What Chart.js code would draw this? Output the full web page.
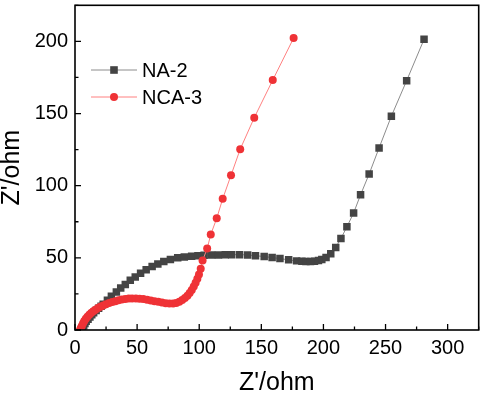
<!DOCTYPE html>
<html><head><meta charset="utf-8">
<script src="https://cdn.jsdelivr.net/npm/chart.js@4/dist/chart.umd.min.js"></script>
<style>html,body{margin:0;padding:0;background:#fff}#wrap{width:484px;height:396px;position:relative}</style>
</head><body><div id="wrap"><canvas id="c" width="484" height="396"></canvas></div>
<script>
const seriesNames = ['NA-2', 'NCA-3'];
const na2X = [5,6,7,8,9,10.5,12,13.5,15,17,19,21,22.7,26.1,29.3,33.3,36.8,40.5,44.5,48.5,52.8,57.3,62.1,66.7,71.5,76.8,82.7,88,93.9,99,104,110,115.5,121,126.1,132.5,139,145.3,152.3,158.7,165,172,178.4,182.7,185.9,189.6,192.8,196,198.7,202.1,205.9,209.9,214.1,218.9,224.3,229.9,236.8,244.8,254.7,267,281];
const na2Y = [0,1.5,3,4.5,6,7.5,9,10.5,12,13.5,15,16.5,17.9,20.6,23.4,26.3,29.1,31.6,34.4,36.7,39.4,41.7,44,45.8,47.4,48.8,50,50.6,51.1,51.5,51.8,51.9,52,52.1,52.2,52.2,52,51.5,50.9,50.2,49.5,48.6,47.9,47.6,47.4,47.4,47.6,48.1,48.8,50.2,52.9,57.2,63.4,71.5,81.1,93.7,108.1,126.2,148.2,172.8,201.4];
const nca3X = [4,4.8,5.6,6.5,7.5,8.7,10,11.5,13,14.7,16.5,18.5,20.5,22.7,25,27.5,30,32.5,35,37.7,40.5,43.3,46,49,52,55,58,61,64,67,70,73,76,79,81.5,84,86.3,88.5,90.5,92.3,94,95.6,97.1,98.5,99.8,101.2,102.7,106.4,109.3,114.1,118.9,125.6,133,144.3,159.2,176];
const nca3Y = [0,1.5,3,4.6,6.2,7.8,9.2,10.6,11.8,13,14.1,15.2,16.1,17,17.9,18.7,19.4,20,20.6,21.1,21.5,21.8,21.9,21.9,21.7,21.4,21,20.5,20,19.5,19,18.6,18.3,18.3,18.7,19.6,20.8,22.2,23.8,25.7,27.8,30.2,32.8,35.5,38.5,42.5,48.1,56.4,66.2,77.4,90.9,107.2,125.3,147.1,173.2,202.3];
const xTickValues = [0, 50, 100, 150, 200, 250, 300];
const yTickValues = [0, 50, 100, 150, 200];
const xRange = [0, 325];
const yRange = [0, 225];
const xTitle = "Z'/ohm";
const yTitle = "Z'/ohm";

const FONT = "'Liberation Sans', Arial, sans-serif";
const toPts = (xs, ys) => xs.map((x, i) => ({x: x, y: ys[i]}));

const frame = {
  id: 'frame',
  afterDatasetsDraw(chart) {
    const {ctx, chartArea: a, scales: {x, y}} = chart;
    ctx.save();
    ctx.strokeStyle = '#000';
    ctx.lineWidth = 1.6;
    ctx.strokeRect(a.left, a.top, a.right - a.left, a.bottom - a.top);
    ctx.lineWidth = 1.3;
    ctx.beginPath();
    for (let v = xRange[0]; v <= xRange[1]; v += 25) {
      const px = x.getPixelForValue(v);
      const len = (v % 50 === 0) ? 6 : 3.5;
      ctx.moveTo(px, a.bottom); ctx.lineTo(px, a.bottom - len);
    }
    for (let v = yRange[0]; v <= yRange[1]; v += 25) {
      const py = y.getPixelForValue(v);
      const len = (v % 50 === 0) ? 6 : 3.5;
      ctx.moveTo(a.left, py); ctx.lineTo(a.left + len, py);
    }
    ctx.stroke();
    ctx.restore();
  },
  afterDraw(chart) {
    const {ctx} = chart;
    ctx.save();
    const items = [
      {ds: chart.data.datasets[0], y: 70},
      {ds: chart.data.datasets[1], y: 97}
    ];
    items.forEach(it => {
      ctx.strokeStyle = it.ds.borderColor;
      ctx.lineWidth = 1;
      ctx.beginPath(); ctx.moveTo(91, it.y); ctx.lineTo(137, it.y); ctx.stroke();
      ctx.fillStyle = it.ds.pointBackgroundColor;
      if (it.ds.pointStyle === 'rect') {
        ctx.fillRect(114 - 3.8, it.y - 3.8, 7.6, 7.6);
      } else {
        ctx.beginPath(); ctx.arc(114, it.y, 4, 0, Math.PI * 2); ctx.fill();
      }
      ctx.fillStyle = '#000';
      ctx.font = '20px ' + FONT;
      ctx.textBaseline = 'middle';
      ctx.textAlign = 'left';
      ctx.fillText(it.ds.label, 142, it.y + 1);
    });
    ctx.restore();
  }
};

new Chart(document.getElementById('c'), {
  type: 'scatter',
  data: {
    datasets: [
      {label: seriesNames[0], data: toPts(na2X, na2Y), showLine: true, order: 1,
       borderColor: '#8c8c8c', borderWidth: 1, pointStyle: 'rect', pointRadius: 5.3,
       pointBackgroundColor: '#444444', pointBorderWidth: 0, pointBorderColor: '#444444'},
      {label: seriesNames[1], data: toPts(nca3X, nca3Y), showLine: true, order: 0,
       borderColor: '#ff8080', borderWidth: 1, pointStyle: 'circle', pointRadius: 4,
       pointBackgroundColor: '#ef3236', pointBorderWidth: 0, pointBorderColor: '#ef3236'}
    ]
  },
  options: {
    responsive: false, animation: false, devicePixelRatio: 1,
    layout: {padding: {top: 3, right: 3, left: 0, bottom: 0}},
    plugins: {legend: {display: false}, tooltip: {enabled: false}},
    scales: {
      x: {
        type: 'linear', min: xRange[0], max: xRange[1],
        afterFit: s => { s.height = 66; s.paddingLeft = 0; s.paddingRight = 0; },
        afterBuildTicks: s => { s.ticks = xTickValues.map(v => ({value: v})); },
        grid: {display: false, drawTicks: false},
        border: {display: false},
        ticks: {padding: 6, color: '#000', font: {family: FONT, size: 20}},
        title: {display: true, text: xTitle, color: '#000', font: {family: FONT, size: 25, lineHeight: 1}, padding: {top: 0, bottom: 0}}
      },
      y: {
        type: 'linear', min: yRange[0], max: yRange[1],
        afterFit: s => { s.width = 75; s.paddingTop = 0; s.paddingBottom = 0; },
        afterBuildTicks: s => { s.ticks = yTickValues.map(v => ({value: v})); },
        grid: {display: false, drawTicks: false},
        border: {display: false},
        ticks: {padding: 7, color: '#000', font: {family: FONT, size: 20}},
        title: {display: true, text: yTitle, color: '#000', font: {family: FONT, size: 25, lineHeight: 1}, padding: {top: 0, bottom: 0}}
      }
    }
  },
  plugins: [frame]
});
</script>
</body></html>
